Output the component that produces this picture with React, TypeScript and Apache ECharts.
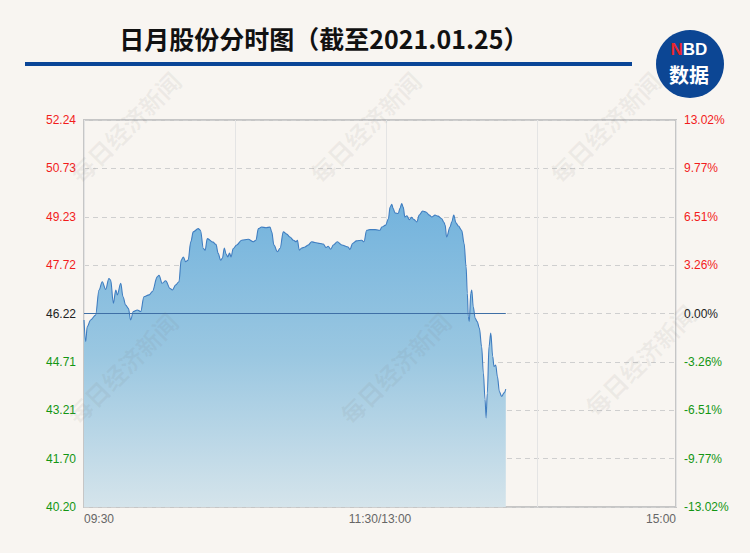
import React, { useEffect, useRef } from "react";
import * as echarts from "echarts";

// ---- data ----
const prevClose = 46.22;
const titleText = "日月股份分时图（截至2021.01.25）";
const timeLabels = ["09:30", "11:30/13:00", "15:00"]; // at minute 0, 120, 240
const leftLabels = ["40.20", "41.70", "43.21", "44.71", "46.22", "47.72", "49.23", "50.73", "52.24"];
const rightLabels = ["-13.02%", "-9.77%", "-6.51%", "-3.26%", "0.00%", "3.26%", "6.51%", "9.77%", "13.02%"];
const watermarkText = "每日经济新闻";

// minutes since 09:30 (trading minutes)
const times = [
  0, 0.7, 1.3, 2.7, 4.7, 6.1, 7.4, 8.8, 10.1, 10.8, 11.9, 12.9, 13.5, 14.9, 15.8, 16.9, 18.0, 18.9, 20.0, 21.6,
  23.0, 24.3, 26.4, 27.7, 29.7, 30.4, 31.7, 33.1, 34.9, 35.8, 37.2, 38.5, 39.4, 40.3, 41.2, 42.2, 43.3, 44.3, 46.3, 47.2,
  48.4, 49.1, 50.0, 52.3, 53.5, 54.4, 55.4, 56.1, 56.9, 57.6, 58.3, 59.0, 59.6, 60.5, 61.9, 63.9, 66.6, 68.6, 69.7, 70.7,
  72.0, 73.8, 75.4, 76.1, 77.0, 78.4, 79.5, 80.8, 82.2, 83.5, 84.9, 86.0, 86.5, 87.3, 88.3, 89.6, 90.9, 92.3, 93.6, 95.7,
  97.0, 98.1, 99.0, 100.0, 101.1, 102.7, 104.5, 107.1, 107.8, 108.9, 110.5, 112.6, 113.5, 114.6, 115.9, 118.0, 120.0, 120.7, 122.3, 123.4,
  124.1, 124.8, 125.3, 126.1, 127.4, 128.1, 128.8, 129.4, 130.1, 130.9, 131.9, 132.8, 133.8, 134.9, 135.9, 137.3, 138.6, 140.0, 141.0, 142.3,
  143.5, 145.0, 145.9, 146.4, 147.0, 148.4, 149.1, 149.9, 150.8, 151.8, 153.1, 154.1, 154.9, 155.4, 155.8, 156.2, 156.8, 157.2, 157.8, 158.6,
  159.4, 160.3, 161.2, 161.9, 162.6, 163.0, 163.5, 164.2, 164.9, 165.7, 166.2, 166.9, 167.6, 168.4, 169.3, 170.3, 171.0,
];
const prices = [
  46.02, 45.35, 45.81, 46.02, 46.17, 46.95, 47.21, 46.97, 47.31, 47.26, 46.54, 46.95, 46.80, 47.16, 46.74, 46.48, 46.38, 46.02, 46.28, 46.33,
  46.28, 46.74, 46.80, 46.90, 47.36, 47.41, 47.16, 47.24, 47.00, 46.95, 47.11, 47.21, 47.88, 47.98, 47.83, 47.88, 48.45, 48.76, 48.86, 48.81,
  48.24, 48.19, 48.55, 48.44, 48.37, 48.09, 47.88, 47.94, 48.26, 48.07, 47.98, 48.10, 47.98, 48.24, 48.35, 48.50, 48.53, 48.45, 48.50, 48.86,
  48.91, 48.89, 48.91, 48.76, 48.35, 48.14, 48.25, 48.76, 48.69, 48.60, 48.50, 48.45, 48.50, 48.19, 48.26, 48.29, 48.35, 48.45, 48.43, 48.40,
  48.38, 48.27, 48.31, 48.22, 48.35, 48.45, 48.35, 48.29, 48.21, 48.40, 48.48, 48.50, 48.45, 48.81, 48.83, 48.83, 48.81, 48.91, 48.97, 49.17,
  49.53, 49.62, 49.49, 49.35, 49.33, 49.49, 49.64, 49.53, 49.22, 49.26, 49.14, 49.21, 49.14, 49.07, 49.28, 49.41, 49.38, 49.28, 49.22, 49.28,
  49.25, 49.17, 49.06, 48.97, 48.60, 48.91, 49.07, 49.28, 49.04, 48.94, 48.81, 48.40, 47.67, 46.85, 46.12, 45.97, 46.85, 46.95, 46.43, 46.07,
  45.97, 45.76, 45.19, 44.37, 43.54, 42.97, 43.74, 45.19, 45.61, 44.88, 44.57, 44.62, 44.26, 43.79, 43.64, 43.75, 43.87,
];

const RED = "#f21c1c";
const GREEN = "#139613";
const BG = "#f8f5f1";

export default function App() {
  const ref = useRef<HTMLDivElement>(null);

  useEffect(() => {
    document.body.style.margin = "0";
    document.body.style.background = BG;
    if (!ref.current) return;
    const chart = echarts.init(ref.current, undefined, { renderer: "svg" });

    const span = 6.02; // max price distance from prev close on the axis
    const step = span / 4;
    const idxOf = (v: any) => Math.round((Number(v) + span) / step);
    const colorOf = (v: any) => {
      const i = idxOf(v);
      return i > 4 ? RED : i < 4 ? GREEN : "#222222";
    };

    const seriesData = times.map((t, i) => [t, +(prices[i] - prevClose).toFixed(4)]);

    const wmPos = [
      [125, 127], [365, 127], [605, 127],
      [122, 368], [395, 368], [640, 360],
    ];

    const option: any = {
      animation: false,
      backgroundColor: BG,
      grid: {
        left: 84,
        right: 74,
        top: 120,
        bottom: 46,
        show: true,
        borderColor: "#c6c6c6",
        borderWidth: 2,
        backgroundColor: "transparent",
      },
      xAxis: [
        {
          type: "value",
          min: 0,
          max: 240,
          interval: 120,
          axisLine: { show: false },
          axisTick: { show: false },
          splitLine: { show: false },
          axisLabel: {
            color: "#666666",
            fontSize: 12,
            fontFamily: "Liberation Sans",
            margin: 6,
            alignMinLabel: "left",
            alignMaxLabel: "right",
            formatter: (v: number) => timeLabels[Math.round(v / 120)] ?? "",
          },
        },
        {
          type: "value",
          min: 0,
          max: 592 / 151,
          interval: 1,
          show: true,
          position: "bottom",
          axisLine: { show: false },
          axisTick: { show: false },
          axisLabel: { show: false },
          splitLine: { show: true, lineStyle: { color: "#e4e4e4", width: 1 } },
        },
      ],
      yAxis: [
        {
          type: "value",
          min: -span,
          max: span,
          interval: step,
          axisLine: { show: false },
          axisTick: { show: false },
          splitLine: { show: true, lineStyle: { color: "#cfcfcf", type: [5, 4], width: 1 } },
          axisLabel: {
            fontSize: 12,
            fontFamily: "Liberation Sans",
            margin: 8,
            color: (v: any) => colorOf(v),
            formatter: (v: number) => leftLabels[idxOf(v)] ?? "",
          },
        },
        {
          type: "value",
          min: -span,
          max: span,
          interval: step,
          position: "right",
          axisLine: { show: false },
          axisTick: { show: false },
          splitLine: { show: false },
          axisLabel: {
            fontSize: 12,
            fontFamily: "Liberation Sans",
            margin: 8,
            color: (v: any) => colorOf(v),
            formatter: (v: number) => rightLabels[idxOf(v)] ?? "",
          },
        },
      ],
      series: [
        {
          type: "line",
          xAxisIndex: 0,
          yAxisIndex: 0,
          data: seriesData,
          showSymbol: false,
          smooth: 0.35,
          smoothMonotone: "x",
          lineStyle: { color: "#3f7dc0", width: 1.1 },
          areaStyle: {
            origin: "start",
            opacity: 1,
            color: new echarts.graphic.LinearGradient(0, 0, 0, 1, [
              { offset: 0, color: "#73b3dd" },
              { offset: 0.5, color: "#9ac7e1" },
              { offset: 1, color: "#d5e4eb" },
            ]),
          },
          markLine: {
            silent: true,
            symbol: "none",
            label: { show: false },
            lineStyle: { color: "#3f6fa6", type: "solid", width: 1 },
            data: [[{ coord: [times[0], 0] }, { coord: [times[times.length - 1], 0] }]],
          },
          z: 3,
        },
      ],
      graphic: [
        {
          type: "text",
          style: {
            text: titleText,
            x: 324,
            y: 38,
            align: "center",
            verticalAlign: "middle",
            fontSize: 25,
            fontWeight: "bold",
            fontFamily: "Noto Sans CJK SC",
            fill: "#111111",
          },
        },
        {
          type: "rect",
          shape: { x: 25, y: 62, width: 607, height: 4 },
          style: { fill: "#0a4597" },
        },
        {
          type: "circle",
          shape: { cx: 690, cy: 64, r: 34 },
          style: { fill: "#0c4694" },
        },
        {
          type: "text",
          style: {
            x: 689,
            y: 49,
            align: "center",
            verticalAlign: "middle",
            text: "{n|N}{b|BD}",
            lineHeight: 16,
            rich: {
              n: { fontSize: 17, lineHeight: 16, fontWeight: "bold", fontFamily: "Liberation Sans", fill: "#e8262c" },
              b: { fontSize: 17, lineHeight: 16, fontWeight: "bold", fontFamily: "Liberation Sans", fill: "#ffffff" },
            },
          },
        },
        {
          type: "text",
          style: {
            x: 689,
            y: 74,
            align: "center",
            verticalAlign: "middle",
            text: "数据",
            fontSize: 20,
            lineHeight: 20,
            fontWeight: "bold",
            fontFamily: "Noto Sans CJK SC",
            fill: "#ffffff",
          },
        },
        ...wmPos.map(([x, y]) => ({
          type: "text",
          x,
          y,
          rotation: Math.PI / 4,
          z: 100,
          silent: true,
          style: {
            text: watermarkText,
            x: 0,
            y: 0,
            align: "center",
            verticalAlign: "middle",
            fontSize: 24,
            fontWeight: "bold",
            fontFamily: "Noto Sans CJK SC",
            fill: "rgba(120,120,120,0.09)",
          },
        })),
      ],
    };

    chart.setOption(option);
    return () => chart.dispose();
  }, []);

  return (
    <div
      ref={ref}
      style={{ position: "fixed", left: 0, top: 0, width: 750, height: 553, background: BG }}
    />
  );
}
